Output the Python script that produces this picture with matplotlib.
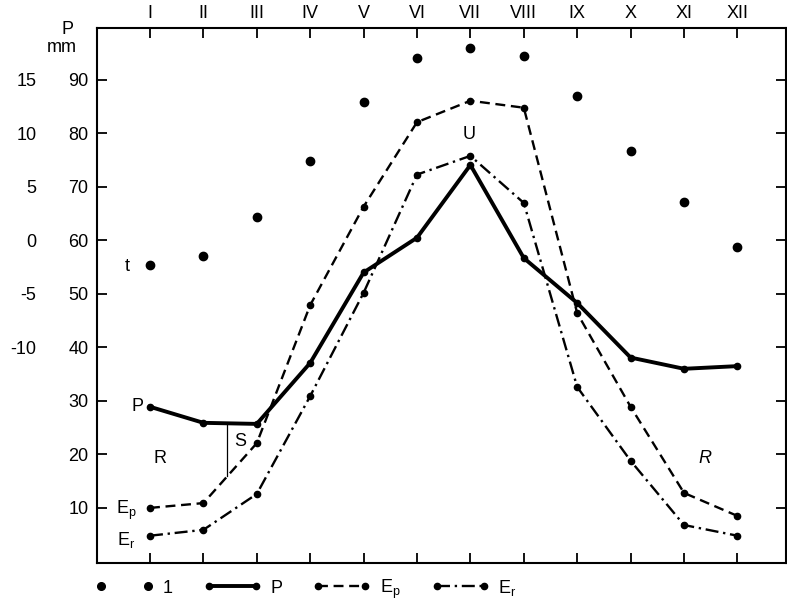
import matplotlib
matplotlib.use("Agg")
import matplotlib.pyplot as plt
from matplotlib.lines import Line2D
import numpy as np

plt.rcParams["font.family"] = ["Liberation Sans", "DejaVu Sans"]
plt.rcParams["mathtext.fontset"] = "custom"
plt.rcParams["mathtext.rm"] = "Liberation Sans"
plt.rcParams["mathtext.it"] = "Liberation Sans"

# months I..XII
months = np.arange(1, 13)
month_labels = ["I", "II", "III", "IV", "V", "VI", "VII", "VIII", "IX", "X", "XI", "XII"]

# temperature, deg C (plotted on the P scale: P = 2*t + 60)
temp = [-2.3, -1.5, 2.2, 7.4, 12.9, 17.0, 18.0, 17.2, 13.5, 8.4, 3.6, -0.6]
# precipitation P, mm
precip = [28.9, 25.9, 25.7, 37.1, 54.0, 60.5, 74.1, 56.7, 48.3, 38.1, 36.0, 36.5]
# potential evapotranspiration Ep, mm
evap_pot = [10.0, 10.9, 22.1, 47.9, 66.3, 82.1, 86.1, 84.8, 46.4, 28.9, 12.8, 8.5]
# real evapotranspiration Er, mm
evap_real = [4.8, 5.9, 12.6, 30.9, 50.2, 72.3, 75.8, 67.0, 32.6, 18.8, 6.8, 4.8]

p_ticks = [10, 20, 30, 40, 50, 60, 70, 80, 90]
t_ticks = [-10, -5, 0, 5, 10, 15]


def t_to_p(t):
    return 2 * np.asarray(t) + 60


def p_to_t(p):
    return (np.asarray(p) - 60) / 2


fig = plt.figure(figsize=(7.87, 6.04), dpi=100)
ax = fig.add_axes([96.6 / 787, 1 - 563 / 604, (786 - 96.6) / 787, 535 / 604])

dash = (0, (4.2, 2.4))
dashdot = (0, (5.5, 2.0, 1.0, 2.0))
thin = 1.7

ax.plot(months, t_to_p(temp), "o", color="black", ms=6, ls="none", zorder=3)
ax.plot(months, precip, "-o", color="black", lw=2.8, ms=4.5, zorder=3)
ax.plot(months, evap_pot, color="black", lw=thin, ls=dash, marker="o", ms=4.5, zorder=3)
ax.plot(months, evap_real, color="black", lw=thin, ls=dashdot, marker="o", ms=4.5, zorder=3)

# surplus marker S between P and Ep
xs = 2.45
ax.plot([xs, xs], [np.interp(xs, months, evap_pot), np.interp(xs, months, precip)],
        color="black", lw=0.9)

ax.set_xlim(0, 12.91)
ax.set_ylim(-0.3, 99.7)

ax.set_yticks(p_ticks)
ax.set_yticklabels([str(v) for v in p_ticks])
ax.set_xticks(months)
ax.set_xticklabels(month_labels)
ax.tick_params(axis="both", direction="in", length=7, width=1.3, labelsize=13,
               top=True, right=True, labeltop=True, labelbottom=False)
ax.tick_params(axis="y", pad=6)
ax.tick_params(axis="x", pad=4)
for sp in ax.spines.values():
    sp.set_linewidth(1.5)

# temperature scale on the far left
sec = ax.secondary_yaxis(-0.087, functions=(p_to_t, t_to_p))
sec.set_yticks(t_ticks)
sec.set_yticklabels([str(v) for v in t_ticks])
sec.tick_params(length=0, labelsize=13, pad=0)
sec.spines["left"].set_visible(False)

# axis title
ax.text(-0.55, 99.5, "P", ha="center", va="center", fontsize=13, clip_on=False)
ax.text(-0.65, 96.0, "mm", ha="center", va="center", fontsize=13, clip_on=False)

# in-plot labels
ax.text(0.77, 28.9, "P", ha="center", va="center", fontsize=13)
ax.text(0.57, 55.2, "t", ha="center", va="center", fontsize=13)
ax.text(0.55, 9.6, "E$_\\mathregular{p}$", ha="center", va="center", fontsize=13)
ax.text(0.55, 4.0, "E$_\\mathregular{r}$", ha="center", va="center", fontsize=13)
ax.text(1.19, 19.2, "R", ha="center", va="center", fontsize=13)
ax.text(11.39, 19.3, "R", ha="center", va="center", fontsize=13, style="italic")
ax.text(2.68, 22.5, "S", ha="center", va="center", fontsize=13)
ax.text(6.97, 79.8, "U", ha="center", va="center", fontsize=13)

handles = [
    Line2D([], [], color="black", ls="none", marker="o", ms=5.5),
    Line2D([], [], color="black", lw=2.8, marker="o", ms=4.5),
    Line2D([], [], color="black", lw=thin, ls=dash, marker="o", ms=4.5),
    Line2D([], [], color="black", lw=thin, ls=dashdot, marker="o", ms=4.5),
]
labels = ["1", "P", "E$_\\mathregular{p}$", "E$_\\mathregular{r}$"]
fig.legend(handles, labels, ncol=4, numpoints=2, frameon=False, fontsize=13,
           handlelength=3.2, handletextpad=0.5, columnspacing=1.7,
           borderpad=0, borderaxespad=0,
           loc="center left", bbox_to_anchor=(96 / 787, 1 - 589 / 604))

fig.savefig("out.png", dpi=100, facecolor="white")
